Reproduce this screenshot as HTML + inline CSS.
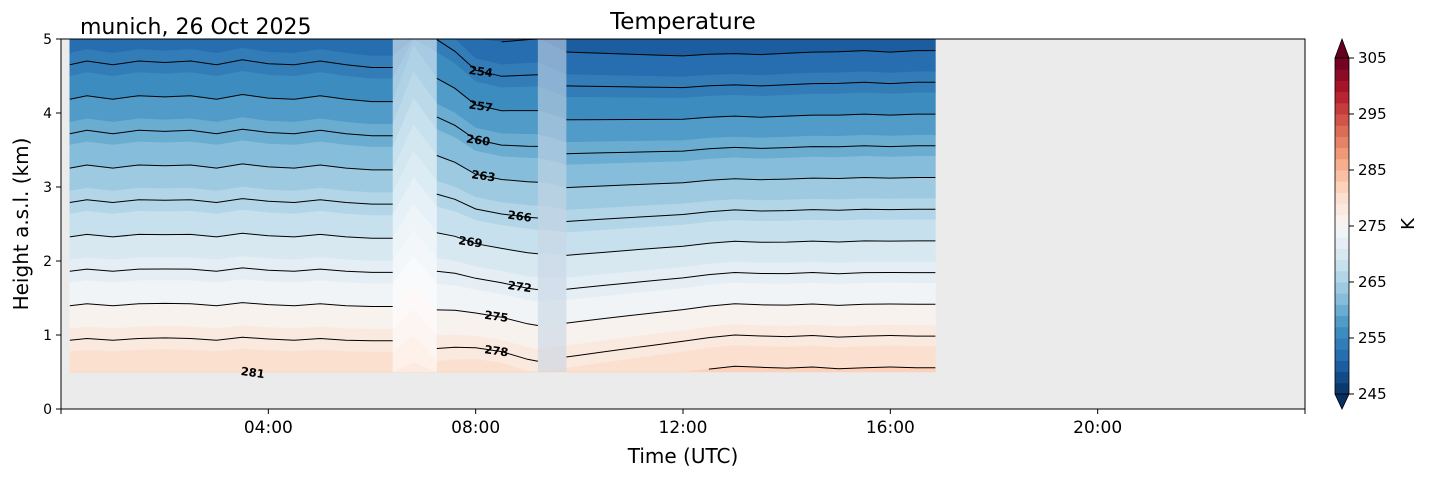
<!DOCTYPE html>
<html><head><meta charset="utf-8"><style>
body{margin:0;background:#fff;}
svg{display:block;font-family:"DejaVu Sans","Liberation Sans",sans-serif;}
</style></head><body>
<svg id="chart" width="1429" height="478" viewBox="0 0 1429 478">
<rect x="0" y="0" width="1429" height="478" fill="#fff"/>
<rect x="61" y="39" width="1244" height="370" fill="#ebebeb"/>
<g id="bands"></g>
<rect id="gap1" fill="#ffffff" fill-opacity="0.55"/>
<rect id="gap2" fill="#c8d6e4" fill-opacity="0.6"/>
<g id="lines"></g>
<g id="labels"></g>
<rect x="61" y="39" width="1244" height="370" fill="none" stroke="#000" stroke-width="1"/>
<g id="axes"></g>
<text x="683" y="29" font-size="23" text-anchor="middle">Temperature</text>
<text x="80" y="34" font-size="22">munich, 26 Oct 2025</text>
<text x="683" y="463" font-size="20" text-anchor="middle">Time (UTC)</text>
<text transform="translate(28,224) rotate(-90)" font-size="20" text-anchor="middle">Height a.s.l. (km)</text>
<g id="cbar"></g>
<text transform="translate(1414,224) rotate(-90)" font-size="18" text-anchor="middle">K</text>
</svg>
<script>
const hours=[0.17,0.5,1,1.5,2,2.5,3,3.5,4,4.5,5,5.5,6,6.4,6.8,7.25,7.6,8,8.5,9,9.2,9.5,9.75,10,10.5,11,11.5,12,12.5,13,13.5,14,14.5,15,15.5,16,16.5,16.87];
const surfaceT=[284.0,284.1,284.0,284.1,284.2,284.1,284.0,284.2,284.1,284.0,284.1,284.0,284.0,284.0,284.5,282.7,283.0,283.3,283.0,282.2,282.0,282.4,282.6,282.8,283.2,283.6,284.0,284.4,284.8,285.1,285.0,284.9,285.0,284.8,284.9,285.0,284.9,284.9];
const lapseRate=[6.45,6.4,6.45,6.4,6.45,6.4,6.45,6.4,6.45,6.45,6.4,6.45,6.5,6.5,5.6,5.75,6.0,6.4,6.45,6.25,6.2,6.4,6.55,6.6,6.7,6.8,6.9,7.0,7.05,7.1,7.1,7.05,7.05,7.0,7.0,7.05,7.0,7.0];
const gaps=[[6.4,7.25],[9.2,9.75]];
const contourLevels=[251,254,257,260,263,266,269,272,275,278,281];
const labelLevels=[254,257,260,263,266,269,272,275,278,281];
const labelHours=[8.1,8.1,8.05,8.15,8.85,7.9,8.85,8.4,8.4,3.7];
const xTicks=[4,8,12,16,20];
const xTickLabels=["04:00","08:00","12:00","16:00","20:00"];
const yTicks=[0,1,2,3,4,5];
const cbTicks=[245,255,265,275,285,295,305];
const zMin=0.5,zMax=5,bandStep=2,bandMin=245,bandMax=305;

const NS="http://www.w3.org/2000/svg";
const X=h=>61+h*(1244/24);
const Y=z=>409-z*74;
const anchors=["#053061","#2166ac","#4393c3","#92c5de","#d1e5f0","#f7f7f7","#fddbc7","#f4a582","#d6604d","#b2182b","#67001f"];
function hex(c){return [1,3,5].map(i=>parseInt(c.substr(i,2),16));}
function cmap(t){t=Math.max(0,Math.min(1,t));const p=t*10,i=Math.min(9,Math.floor(p)),f=p-i;const a=hex(anchors[i]),b=hex(anchors[i+1]);return "rgb("+a.map((v,k)=>Math.round(v+(b[k]-v)*f)).join(",")+")";}
function zOf(i,L){return (surfaceT[i]-L)/lapseRate[i];}
function el(tag,attrs,parent){const e=document.createElementNS(NS,tag);for(const k in attrs)e.setAttribute(k,attrs[k]);parent.appendChild(e);return e;}

const bands=document.getElementById('bands');
for(let L=bandMin-20;L<bandMax+20;L+=bandStep){
  const top=[],bot=[];let nonEmpty=false;
  for(let i=0;i<hours.length;i++){
    const zl=Math.max(zMin,Math.min(zMax,zOf(i,L)));
    const zh=Math.max(zMin,Math.min(zMax,zOf(i,L+bandStep)));
    if(zl-zh>0.001)nonEmpty=true;
    bot.push(X(hours[i]).toFixed(1)+","+Y(zl).toFixed(1));
    top.push(X(hours[i]).toFixed(1)+","+Y(zh).toFixed(1));
  }
  if(!nonEmpty)continue;
  const c=cmap((L+1-bandMin)/(bandMax-bandMin));
  const p=el('polygon',{points:bot.concat(top.reverse()).join(" "),fill:c,stroke:c,'stroke-width':0.6},bands);
  
  
}
const g1=document.getElementById('gap1');
g1.setAttribute('x',X(gaps[0][0]));g1.setAttribute('width',X(gaps[0][1])-X(gaps[0][0]));g1.setAttribute('y',Y(zMax));g1.setAttribute('height',Y(zMin)-Y(zMax));
const g2=document.getElementById('gap2');
g2.setAttribute('x',X(gaps[1][0]));g2.setAttribute('width',X(gaps[1][1])-X(gaps[1][0]));g2.setAttribute('y',Y(zMax));g2.setAttribute('height',Y(zMin)-Y(zMax));

const lines=document.getElementById('lines');
const segs=[[hours[0],gaps[0][0]],[gaps[0][1],gaps[1][0]],[gaps[1][1],hours[hours.length-1]]];
contourLevels.forEach(L=>{
  segs.forEach(s=>{
    let pts=[];
    const flush=()=>{if(pts.length>1){const pl=el('polyline',{points:pts.join(" "),fill:'none',stroke:'#000','stroke-width':1},lines);}pts=[];};
    for(let i=0;i<hours.length;i++){
      if(hours[i]<s[0]-1e-6||hours[i]>s[1]+1e-6)continue;
      const z=zOf(i,L);
      if(z>=zMin&&z<=zMax)pts.push(X(hours[i]).toFixed(1)+","+Y(z).toFixed(1)); else flush();
    }
    flush();
  });
});
const labels=document.getElementById('labels');
function interpIdx(h){for(let i=0;i<hours.length-1;i++)if(h>=hours[i]&&h<=hours[i+1])return [i,(h-hours[i])/(hours[i+1]-hours[i])];return [0,0];}
labelLevels.forEach((L,k)=>{
  const h=labelHours[k];const [i,f]=interpIdx(h);
  const z=zOf(i,L)*(1-f)+zOf(i+1,L)*f;
  const t=el('text',{x:X(h),y:Y(z)+4,'font-size':11.5,'font-weight':'bold','text-anchor':'middle',transform:'rotate(8 '+X(h)+' '+Y(z)+')'},labels);
  t.textContent=L;
  
  
});
const axes=document.getElementById('axes');
xTicks.forEach((h,k)=>{
  el('line',{x1:X(h),x2:X(h),y1:409,y2:414,stroke:'#000'},axes);
  const t=el('text',{x:X(h),y:433,'font-size':17,'text-anchor':'middle'},axes);t.textContent=xTickLabels[k];
  
  
});
[0,24].forEach(h=>el('line',{x1:X(h),x2:X(h),y1:409,y2:414,stroke:'#000'},axes));
yTicks.forEach(z=>{
  el('line',{x1:56,x2:61,y1:Y(z),y2:Y(z),stroke:'#000'},axes);
  const t=el('text',{x:52,y:Y(z)+5,'font-size':14,'text-anchor':'end'},axes);t.textContent=z;
  
  
});
const cb=document.getElementById('cbar');
const CY=v=>394-(v-245)*(336/60);
for(let L=bandMin;L<bandMax;L+=bandStep){
  const r=el('rect',{x:1335,y:CY(L+bandStep),width:14,height:CY(L)-CY(L+bandStep)+0.5,fill:cmap((L+1-bandMin)/(bandMax-bandMin))},cb);
  
  
}
el('polygon',{points:"1335,"+CY(305)+" 1349,"+CY(305)+" 1342,39",fill:cmap(1),stroke:'#000','stroke-width':0.8},cb);
el('polygon',{points:"1335,"+CY(245)+" 1349,"+CY(245)+" 1342,409",fill:cmap(0),stroke:'#000','stroke-width':0.8},cb);
el('rect',{x:1335,y:CY(305),width:14,height:CY(245)-CY(305),fill:'none',stroke:'#000','stroke-width':0.8},cb);
cbTicks.forEach(v=>{
  el('line',{x1:1349,x2:1354,y1:CY(v),y2:CY(v),stroke:'#000'},cb);
  const t=el('text',{x:1358,y:CY(v)+5,'font-size':15},cb);t.textContent=v;
  
  
});
</script>
</body></html>
